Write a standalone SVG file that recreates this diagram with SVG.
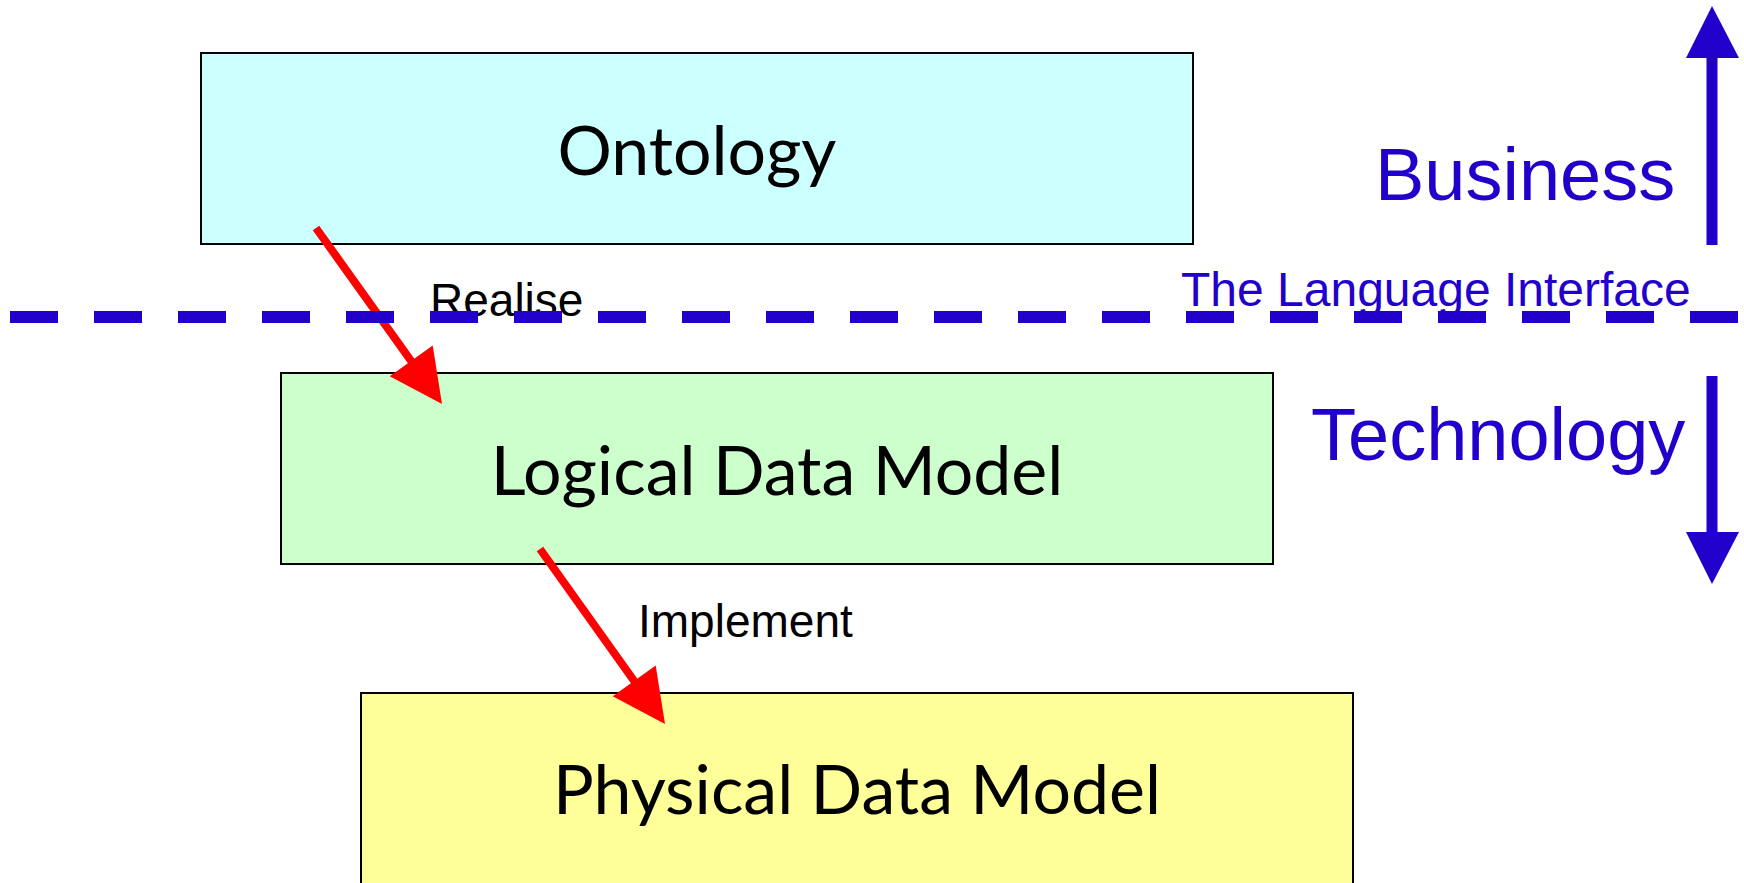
<svg xmlns="http://www.w3.org/2000/svg" width="1744" height="883" viewBox="0 0 1744 883">
<style>
.box{stroke:#000;stroke-width:2}
.lbl{font-family:Lato,"Liberation Sans",sans-serif;font-size:68px;fill:#000;text-anchor:middle}
.conn{font-family:"Liberation Sans",Arial,sans-serif;font-size:46px;fill:#000}
.blue{font-family:"Liberation Sans",Arial,sans-serif;fill:#2200cc}
.red{stroke:#ff0000;stroke-width:8;fill:none}
.redhead{fill:#ff0000}
.bluehead{fill:#2200cc}
</style>
<rect width="1744" height="883" fill="#fff"/>
<g id="ontology">
<rect class="box" x="201" y="53" width="992" height="191" fill="#ccffff"/>
<text class="lbl" x="697" y="175">Ontology</text>
</g>
<g id="logical">
<rect class="box" x="281" y="373" width="992" height="191" fill="#ccffcc"/>
<text class="lbl" x="777" y="495">Logical Data Model</text>
</g>
<g id="physical">
<rect class="box" x="361" y="693" width="992" height="200" fill="#ffff99"/>
<text class="lbl" x="857" y="814">Physical Data Model</text>
</g>
<g id="connectors">
<line class="red" x1="316" y1="228" x2="414" y2="365"/>
<polygon class="redhead" points="442,404 389.7,376.3 432.7,345.5"/>
<text class="conn" x="430" y="316">Realise</text>
<line class="red" x1="540" y1="549" x2="637" y2="685"/>
<polygon class="redhead" points="665,724 612.7,696.3 655.7,665.5"/>
<text class="conn" x="638" y="637" font-size="47">Implement</text>
</g>
<g id="interface">
<text class="blue" x="1181" y="306" font-size="48">The Language Interface</text>
<line x1="10" y1="317" x2="1740" y2="317" stroke="#2200cc" stroke-width="12" stroke-dasharray="48 36"/>
</g>
<g id="business">
<text class="blue" x="1375" y="200" font-size="74">Business</text>
<line x1="1712" y1="56" x2="1712" y2="245" stroke="#2200cc" stroke-width="11"/>
<polygon class="bluehead" points="1712,6 1739,58 1686,58"/>
</g>
<g id="technology">
<text class="blue" x="1311" y="460" font-size="74">Technology</text>
<line x1="1712" y1="376" x2="1712" y2="535" stroke="#2200cc" stroke-width="11"/>
<polygon class="bluehead" points="1712,584 1739,532 1686,532"/>
</g>
</svg>
